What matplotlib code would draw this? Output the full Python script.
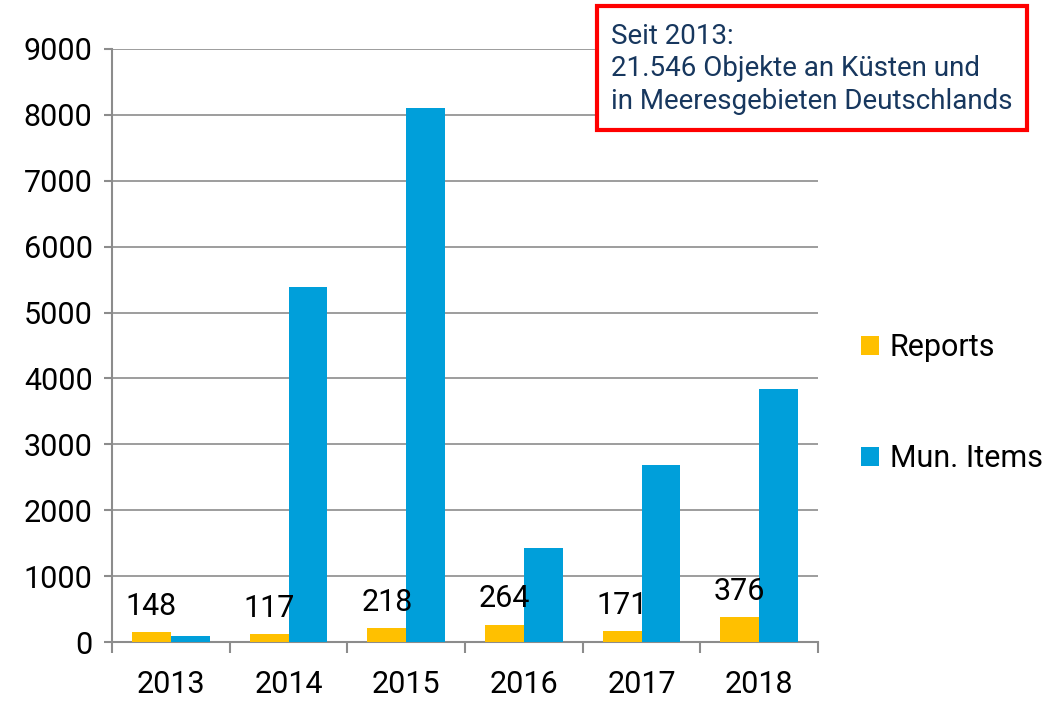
import numpy as np
import matplotlib.pyplot as plt
from matplotlib.patches import Rectangle

plt.rcParams['font.family'] = ['Roboto', 'DejaVu Sans']

jahre = ['2013', '2014', '2015', '2016', '2017', '2018']
reports = [148, 117, 218, 264, 171, 376]
mun_items = [91, 5390, 8105, 1427, 2687, 3846]
y_ticks = [0, 1000, 2000, 3000, 4000, 5000, 6000, 7000, 8000, 9000]

gelb = '#ffc000'
blau = '#009fda'
grau = '#8c8c8c'

fig = plt.figure(figsize=(10.58, 7.02), dpi=100)
ax = fig.add_axes([112 / 1058, 1 - 642 / 702, (818 - 112) / 1058, (642 - 49) / 702])

x = np.arange(len(jahre))
b = 0.33
ax.bar(x - b / 2, reports, width=b, color=gelb, label='Reports', zorder=3)
ax.bar(x + b / 2, mun_items, width=b, color=blau, label='Mun. Items', zorder=3)

# Beschriftung der Reports-Balken
for xi, v in zip(x, reports):
    ax.annotate(str(v), (xi - b / 2, v), xytext=(0, 8), textcoords='offset points',
                ha='center', va='bottom', fontsize=22, color='black')

ax.set_xlim(-0.5, len(jahre) - 0.5)
ax.set_ylim(0, 9000)
ax.set_yticks(y_ticks)
ax.set_yticklabels([str(t) for t in y_ticks], fontsize=22)
ax.set_xticks(x)
ax.set_xticklabels(jahre, fontsize=22)
ax.set_xticks(np.arange(-0.5, len(jahre)), minor=True)
ax.tick_params(axis='x', which='major', length=0, pad=20)
ax.tick_params(axis='x', which='minor', length=8, color=grau, width=1.5)
ax.tick_params(axis='y', length=6, color=grau, width=1.5, pad=8)

ax.yaxis.grid(True, color=grau, linewidth=1.2, zorder=0)
for s in ['top', 'right']:
    ax.spines[s].set_visible(False)
for s in ['left', 'bottom']:
    ax.spines[s].set_color(grau)
    ax.spines[s].set_linewidth(1.5)

fig.legend(loc='upper left', bbox_to_anchor=(833 / 1058, 1 - 306 / 702), frameon=False,
           fontsize=22, handlelength=0.6, handleheight=0.6, handletextpad=0.35,
           labelspacing=2.68)

# Hinweiskasten
fig.patches.append(Rectangle((597 / 1058, 1 - 130 / 702), 430 / 1058, 124 / 702,
                             transform=fig.transFigure, facecolor='white',
                             edgecolor='#ff0000', linewidth=3, zorder=5))
fig.text(611 / 1058, 1 - 69 / 702,
         'Seit 2013:\n21.546 Objekte an Küsten und\nin Meeresgebieten Deutschlands',
         ha='left', va='center', fontsize=20, color='#17375e', linespacing=1.27,
         zorder=6)

plt.savefig('out.png', dpi=100)
